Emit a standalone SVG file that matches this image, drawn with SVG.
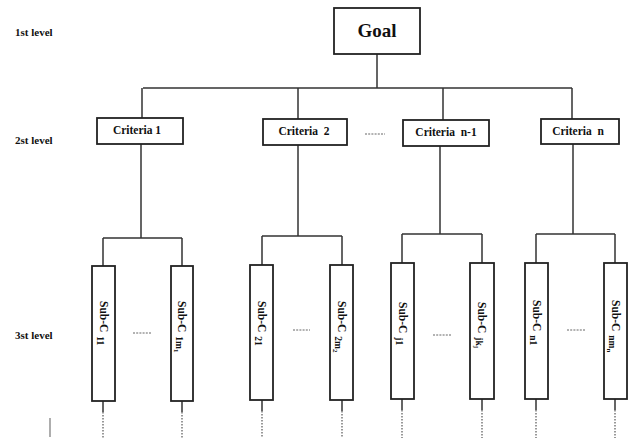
<svg xmlns="http://www.w3.org/2000/svg" width="631" height="438" viewBox="0 0 631 438">
<style>
  .box{fill:#fff;stroke:#222;stroke-width:1.8}
  .ln{fill:none;stroke:#333;stroke-width:1.5}
  .dot{fill:none;stroke:#555;stroke-width:1.2;stroke-dasharray:1.5 1.5}
  .dash{fill:none;stroke:#666;stroke-width:1;stroke-dasharray:2 1.2}
  text{font-family:"Liberation Serif","Times New Roman",serif;font-weight:bold;fill:#111}
  .lvl{font-size:11px}
  .crit{font-size:11.5px;text-anchor:middle}
  .sub{font-size:11.5px}
  .s1{font-size:9.5px}
  .s2{font-size:7px}
</style>
<rect width="631" height="438" fill="#fff"/>
<text class="lvl" x="15" y="36">1st level</text>
<text class="lvl" x="15" y="144">2st level</text>
<text class="lvl" x="15" y="339">3st level</text>
<g id="connectors">
  <path class="ln" d="M377 54V88M143 88H572M142 88V118M298 88V119M443 88V120M572 88V119"/>
  <path class="ln" d="M141 144V238M103 238H182M103 238V266M182 238V266"/>
  <path class="ln" d="M298 145V236M262 236H342M262 236V265M342 236V265"/>
  <path class="ln" d="M440 146V234M402 234H482M402 234V263M482 234V263"/>
  <path class="ln" d="M573 143V234M536 234H615M536 234V263M615 234V263"/>
  <path class="ln" d="M103 401V412M182 401V412M262 400V411M342 400V411M402 399V410M482 399V410M536 399V410M615 399V410"/>
  <path class="dot" d="M103 412V438M182 412V438M262 411V438M342 411V438M402 410V438M482 410V438M536 410V438M615 410V438"/>
  <path class="ln" d="M50 418V437" style="stroke-width:1.2;stroke:#777"/>
  <path class="dash" d="M365 134H385M133 333H152M293 330H310M433 335H452M567 330H585"/>
</g>
<g id="goal">
  <rect class="box" x="334" y="8" width="86" height="46"/>
  <text x="377" y="37" style="font-size:19px;text-anchor:middle">Goal</text>
</g>
<g id="criteria1">
  <rect class="box" x="97" y="118" width="86" height="26"/>
  <text class="crit" x="137" y="134">Criteria 1</text>
</g>
<g id="criteria2">
  <rect class="box" x="263" y="119" width="84" height="26"/>
  <text class="crit" x="304" y="135" xml:space="preserve">Criteria  2</text>
</g>
<g id="criteria-n1">
  <rect class="box" x="403" y="120" width="86" height="26"/>
  <text class="crit" x="446" y="136" xml:space="preserve">Criteria  n-1</text>
</g>
<g id="criteria-n">
  <rect class="box" x="541" y="119" width="78" height="25"/>
  <text class="crit" x="578" y="135" xml:space="preserve">Criteria  n</text>
</g>
<g id="sub11">
  <rect class="box" x="92" y="266" width="23" height="135"/>
  <text class="sub" transform="translate(99.5 301) rotate(90)">Sub-C<tspan class="s1" dx="4" dy="2.5">11</tspan></text>
</g>
<g id="sub1m1">
  <rect class="box" x="171" y="266" width="22" height="135"/>
  <text class="sub" transform="translate(178 301) rotate(90)">Sub-C<tspan class="s1" dx="4" dy="2.5">1m</tspan><tspan class="s2" dy="2">1</tspan></text>
</g>
<g id="sub21">
  <rect class="box" x="250" y="265" width="23" height="135"/>
  <text class="sub" transform="translate(257.5 301) rotate(90)">Sub-C<tspan class="s1" dx="4" dy="2.5">21</tspan></text>
</g>
<g id="sub2m2">
  <rect class="box" x="330" y="265" width="23" height="135"/>
  <text class="sub" transform="translate(337.5 301) rotate(90)">Sub-C<tspan class="s1" dx="4" dy="2.5">2m</tspan><tspan class="s2" dy="2">2</tspan></text>
</g>
<g id="subj1">
  <rect class="box" x="391" y="263" width="23" height="136"/>
  <text class="sub" transform="translate(398.5 302) rotate(90)">Sub-C<tspan class="s1" dx="4" dy="2.5">j1</tspan></text>
</g>
<g id="subjkj">
  <rect class="box" x="470" y="263" width="24" height="136"/>
  <text class="sub" transform="translate(478 302) rotate(90)">Sub-C<tspan class="s1" dx="4" dy="2.5">jk</tspan><tspan class="s2" dy="2">j</tspan></text>
</g>
<g id="subn1">
  <rect class="box" x="525" y="263" width="23" height="136"/>
  <text class="sub" transform="translate(532.5 300) rotate(90)">Sub-C<tspan class="s1" dx="4" dy="2.5">n1</tspan></text>
</g>
<g id="subnmn">
  <rect class="box" x="604" y="263" width="23" height="136"/>
  <text class="sub" transform="translate(611.5 300) rotate(90)">Sub-C<tspan class="s1" dx="4" dy="2.5">nm</tspan><tspan class="s2" dy="2">n</tspan></text>
</g>
</svg>
